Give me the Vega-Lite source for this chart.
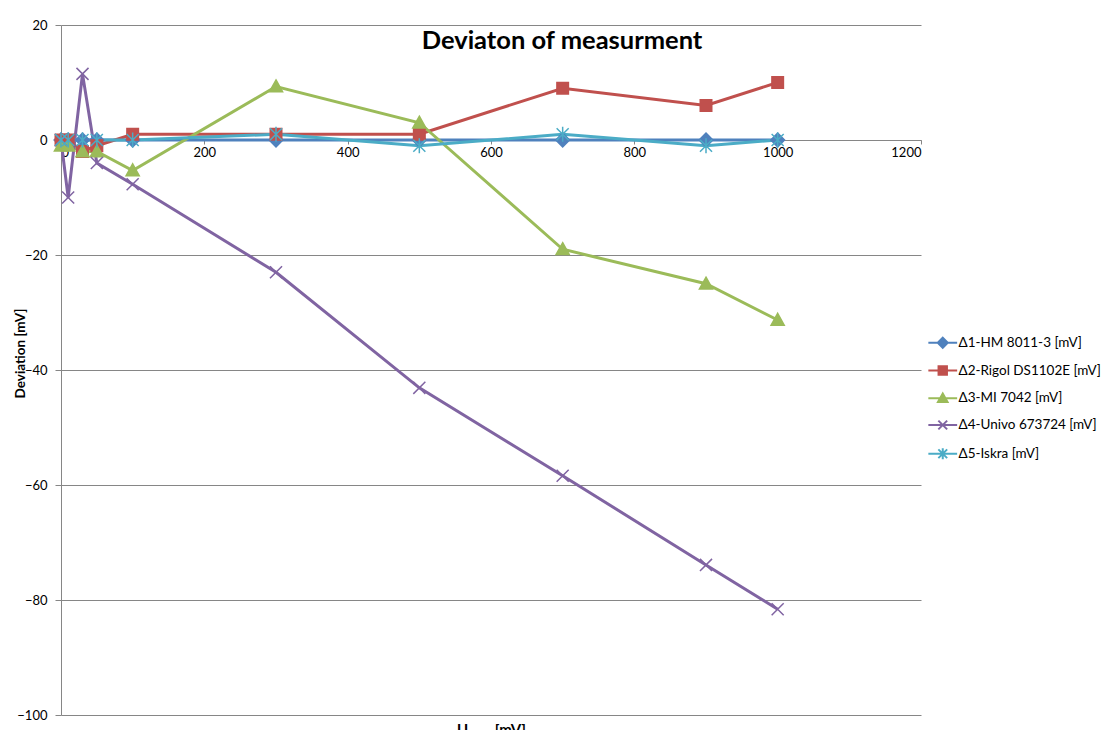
{
  "$schema": "https://vega.github.io/schema/vega-lite/v6.json",
  "width": 860,
  "height": 690,
  "autosize": {"type": "none"},
  "padding": {"left": 61, "top": 25, "right": 182, "bottom": 15},
  "background": "white",
  "title": {
    "text": "Deviaton of measurment",
    "font": "Lato",
    "fontSize": 25.5,
    "fontWeight": "bold",
    "color": "#000000",
    "anchor": "middle",
    "frame": "group",
    "orient": "top",
    "baseline": "alphabetic",
    "offset": 0,
    "dx": 71,
    "dy": 55
  },
  "config": {
    "view": {"stroke": null},
    "axis": {"labelFont": "Lato", "titleFont": "Lato", "labelColor": "#000000", "titleColor": "#000000"},
    "legend": {
      "orient": "none",
      "legendX": 875,
      "legendY": 311,
      "padding": 0,
      "labelFont": "Lato",
      "labelFontSize": 13.5,
      "labelColor": "#000000",
      "symbolSize": 64,
      "symbolStrokeWidth": 2,
      "symbolOpacity": 1,
      "labelOffset": 9,
      "rowPadding": 9.75,
      "labelLimit": 300
    }
  },
  "data": {
    "values": [
      {"u": 0, "series": "Δ1-HM 8011-3  [mV]", "dev": 0},
      {"u": 10, "series": "Δ1-HM 8011-3  [mV]", "dev": 0},
      {"u": 30, "series": "Δ1-HM 8011-3  [mV]", "dev": 0},
      {"u": 50, "series": "Δ1-HM 8011-3  [mV]", "dev": 0},
      {"u": 100, "series": "Δ1-HM 8011-3  [mV]", "dev": 0},
      {"u": 300, "series": "Δ1-HM 8011-3  [mV]", "dev": 0},
      {"u": 500, "series": "Δ1-HM 8011-3  [mV]", "dev": 0},
      {"u": 700, "series": "Δ1-HM 8011-3  [mV]", "dev": 0},
      {"u": 900, "series": "Δ1-HM 8011-3  [mV]", "dev": 0},
      {"u": 1000, "series": "Δ1-HM 8011-3  [mV]", "dev": 0},
      {"u": 0, "series": "Δ2-Rigol DS1102E [mV]", "dev": 0},
      {"u": 10, "series": "Δ2-Rigol DS1102E [mV]", "dev": 0},
      {"u": 30, "series": "Δ2-Rigol DS1102E [mV]", "dev": -2},
      {"u": 50, "series": "Δ2-Rigol DS1102E [mV]", "dev": -1},
      {"u": 100, "series": "Δ2-Rigol DS1102E [mV]", "dev": 1},
      {"u": 300, "series": "Δ2-Rigol DS1102E [mV]", "dev": 1},
      {"u": 500, "series": "Δ2-Rigol DS1102E [mV]", "dev": 1},
      {"u": 700, "series": "Δ2-Rigol DS1102E [mV]", "dev": 9},
      {"u": 900, "series": "Δ2-Rigol DS1102E [mV]", "dev": 6},
      {"u": 1000, "series": "Δ2-Rigol DS1102E [mV]", "dev": 10},
      {"u": 0, "series": "Δ3-MI 7042 [mV]", "dev": -1},
      {"u": 10, "series": "Δ3-MI 7042 [mV]", "dev": -1},
      {"u": 30, "series": "Δ3-MI 7042 [mV]", "dev": -2},
      {"u": 50, "series": "Δ3-MI 7042 [mV]", "dev": -2},
      {"u": 100, "series": "Δ3-MI 7042 [mV]", "dev": -5.3},
      {"u": 300, "series": "Δ3-MI 7042 [mV]", "dev": 9.3},
      {"u": 500, "series": "Δ3-MI 7042 [mV]", "dev": 3},
      {"u": 700, "series": "Δ3-MI 7042 [mV]", "dev": -19},
      {"u": 900, "series": "Δ3-MI 7042 [mV]", "dev": -25},
      {"u": 1000, "series": "Δ3-MI 7042 [mV]", "dev": -31.3},
      {"u": 0, "series": "Δ4-Univo 673724 [mV]", "dev": 0},
      {"u": 10, "series": "Δ4-Univo 673724 [mV]", "dev": -10},
      {"u": 30, "series": "Δ4-Univo 673724 [mV]", "dev": 11.5},
      {"u": 50, "series": "Δ4-Univo 673724 [mV]", "dev": -4},
      {"u": 100, "series": "Δ4-Univo 673724 [mV]", "dev": -7.7},
      {"u": 300, "series": "Δ4-Univo 673724 [mV]", "dev": -23},
      {"u": 500, "series": "Δ4-Univo 673724 [mV]", "dev": -43.1},
      {"u": 700, "series": "Δ4-Univo 673724 [mV]", "dev": -58.4},
      {"u": 900, "series": "Δ4-Univo 673724 [mV]", "dev": -73.9},
      {"u": 1000, "series": "Δ4-Univo 673724 [mV]", "dev": -81.6},
      {"u": 0, "series": "Δ5-Iskra [mV]", "dev": 0},
      {"u": 10, "series": "Δ5-Iskra [mV]", "dev": 0},
      {"u": 30, "series": "Δ5-Iskra [mV]", "dev": 0},
      {"u": 50, "series": "Δ5-Iskra [mV]", "dev": 0},
      {"u": 100, "series": "Δ5-Iskra [mV]", "dev": 0},
      {"u": 300, "series": "Δ5-Iskra [mV]", "dev": 1},
      {"u": 500, "series": "Δ5-Iskra [mV]", "dev": -1},
      {"u": 700, "series": "Δ5-Iskra [mV]", "dev": 1},
      {"u": 900, "series": "Δ5-Iskra [mV]", "dev": -1},
      {"u": 1000, "series": "Δ5-Iskra [mV]", "dev": 0}
    ]
  },
  "encoding": {
    "x": {
      "field": "u",
      "type": "quantitative",
      "scale": {"domain": [0, 1200], "nice": false, "zero": false},
      "axis": {
        "values": [0, 200, 400, 600, 800, 1000, 1200],
        "format": "d",
        "grid": false,
        "offset": {"expr": "scale('y', 0) - height"},
        "domainColor": "#868686",
        "tickColor": "#868686",
        "tickSize": 4,
        "labelFontSize": 13,
        "labelPadding": 2,
        "title": "Uᵢₙₚᵤₜ [mV]",
        "titleFontSize": 15,
        "titleFontWeight": "bold",
        "titleY": {"expr": "height - scale('y', 0) + 7"}
      }
    },
    "y": {
      "field": "dev",
      "type": "quantitative",
      "scale": {"domain": [-100, 20], "nice": false, "zero": false},
      "axis": {
        "values": [-100, -80, -60, -40, -20, 0, 20],
        "grid": true,
        "gridColor": "#868686",
        "domainColor": "#868686",
        "tickColor": "#868686",
        "tickSize": 6,
        "labelFontSize": 13,
        "labelPadding": 8,
        "title": "Deviation [mV]",
        "titleFontSize": 13.5,
        "titleFontWeight": "bold",
        "titleX": -34,
        "titleY": 328
      }
    },
    "color": {
      "field": "series",
      "type": "nominal",
      "title": null,
      "scale": {
        "domain": ["Δ1-HM 8011-3  [mV]", "Δ2-Rigol DS1102E [mV]", "Δ3-MI 7042 [mV]", "Δ4-Univo 673724 [mV]", "Δ5-Iskra [mV]"],
        "range": ["#4F81BD", "#C0504D", "#9BBB59", "#8064A2", "#4BACC6"]
      }
    },
    "stroke": {
      "field": "series",
      "type": "nominal",
      "title": null,
      "scale": {
        "domain": ["Δ1-HM 8011-3  [mV]", "Δ2-Rigol DS1102E [mV]", "Δ3-MI 7042 [mV]", "Δ4-Univo 673724 [mV]", "Δ5-Iskra [mV]"],
        "range": ["#4F81BD", "#C0504D", "#9BBB59", "#8064A2", "#4BACC6"]
      }
    }
  },
  "layer": [
    {
      "transform": [{"filter": "datum.u < 0"}],
      "mark": {"type": "point", "filled": true, "size": 64, "opacity": 1},
      "encoding": {
        "shape": {
          "field": "series",
          "type": "nominal",
          "title": null,
          "scale": {
            "domain": ["Δ1-HM 8011-3  [mV]", "Δ2-Rigol DS1102E [mV]", "Δ3-MI 7042 [mV]", "Δ4-Univo 673724 [mV]", "Δ5-Iskra [mV]"],
            "range": [
              "M-3.6,0L3.6,0M0,-1.25L1.25,0L0,1.25L-1.25,0Z",
              "M-3.6,0L3.6,0M-1.05,-1.05L1.05,-1.05L1.05,1.05L-1.05,1.05Z",
              "M-3.6,0L3.6,0M0,-1.2L1.2,0.95L-1.2,0.95Z",
              "M-3.6,0L3.6,0M-1.1,-1.1L1.1,1.1M1.1,-1.1L-1.1,1.1",
              "M-3.6,0L3.6,0M-1.1,-1.1L1.1,1.1M1.1,-1.1L-1.1,1.1M0,-1.35L0,1.35"
            ]
          }
        }
      }
    },
    {
      "mark": {"type": "line", "strokeWidth": 3},
      "encoding": {
        "order": {"field": "u", "type": "quantitative"}
      }
    },
    {
      "transform": [{"filter": "datum.series == 'Δ1-HM 8011-3  [mV]'"}],
      "mark": {"type": "point", "filled": true, "size": 120, "strokeWidth": 1.5, "opacity": 1, "shape": "M0,-1.25L1.25,0L0,1.25L-1.25,0Z"}
    },
    {
      "transform": [{"filter": "datum.series == 'Δ2-Rigol DS1102E [mV]'"}],
      "mark": {"type": "point", "filled": true, "size": 120, "strokeWidth": 1.5, "opacity": 1, "shape": "M-1.05,-1.05L1.05,-1.05L1.05,1.05L-1.05,1.05Z"}
    },
    {
      "transform": [{"filter": "datum.series == 'Δ3-MI 7042 [mV]'"}],
      "mark": {"type": "point", "filled": true, "size": 120, "strokeWidth": 1.5, "opacity": 1, "shape": "M0,-1.2L1.2,0.95L-1.2,0.95Z"}
    },
    {
      "transform": [{"filter": "datum.series == 'Δ4-Univo 673724 [mV]'"}],
      "mark": {"type": "point", "filled": true, "size": 120, "strokeWidth": 1.5, "opacity": 1, "shape": "M-1.1,-1.1L1.1,1.1M1.1,-1.1L-1.1,1.1"}
    },
    {
      "transform": [{"filter": "datum.series == 'Δ5-Iskra [mV]'"}],
      "mark": {"type": "point", "filled": true, "size": 120, "strokeWidth": 1.5, "opacity": 1, "shape": "M-1.1,-1.1L1.1,1.1M1.1,-1.1L-1.1,1.1M0,-1.35L0,1.35"}
    }
  ]
}
